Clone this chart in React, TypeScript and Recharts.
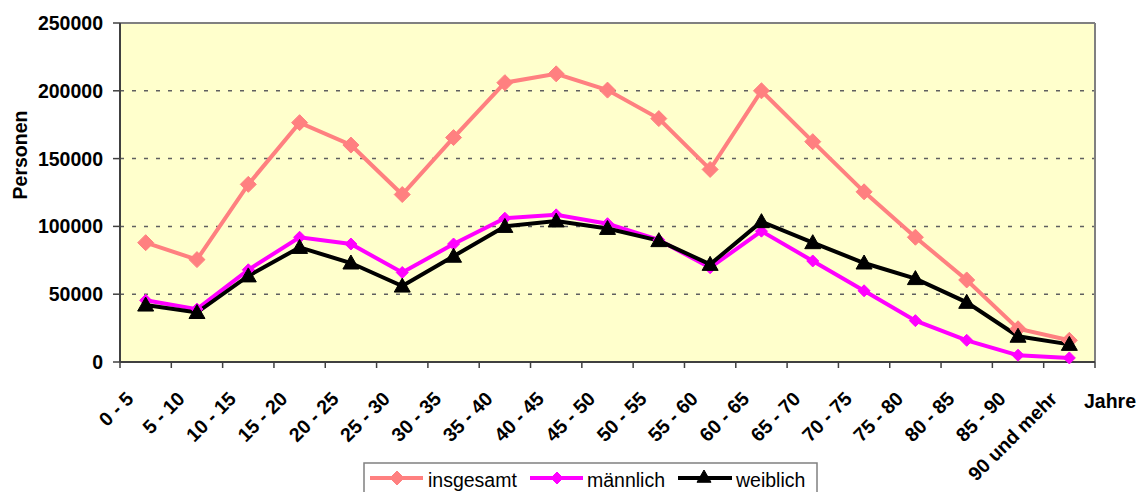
import React from 'react';
import {
  LineChart,
  Line,
  XAxis,
  YAxis,
  CartesianGrid,
  ReferenceLine,
} from 'recharts';

const categories = [
  '0 - 5', '5 - 10', '10 - 15', '15 - 20', '20 - 25', '25 - 30', '30 - 35',
  '35 - 40', '40 - 45', '45 - 50', '50 - 55', '55 - 60', '60 - 65', '65 - 70',
  '70 - 75', '75 - 80', '80 - 85', '85 - 90', '90 und mehr',
];
const insgesamt = [
  88000, 75500, 131000, 176500, 160000, 123500, 165500, 206000, 212500, 200500,
  179500, 142000, 200000, 162500, 125500, 92000, 60500, 24500, 16000,
];
const maennlich = [
  45500, 39000, 68000, 92000, 87000, 66000, 87000, 106000, 108500, 102000,
  90000, 69500, 96500, 74500, 52500, 30500, 16000, 5000, 3000,
];
const weiblich = [
  42000, 36500, 63500, 84500, 73000, 56000, 78000, 100000, 104000, 98500,
  89500, 72000, 103500, 88000, 73000, 61500, 44000, 19000, 13000,
];
const yTicks = [0, 50000, 100000, 150000, 200000, 250000];
const xBounds = categories.map((_, i) => i).concat(categories.length);

const data = categories.map((age, i) => ({
  pos: i + 0.5,
  age,
  insgesamt: insgesamt[i],
  maennlich: maennlich[i],
  weiblich: weiblich[i],
}));

const FONT = '"Liberation Sans", Arial, Helvetica, sans-serif';
const PINK = '#FF8080';
const MAGENTA = '#FF00FF';
const BLACK = '#000000';
const HALF_BAND = 975 / 19 / 2;

const Diamond = ({ cx, cy, r, color }: any) => (
  <polygon
    points={`${cx},${cy - r} ${cx + r},${cy} ${cx},${cy + r} ${cx - r},${cy}`}
    fill={color}
    stroke={color}
    strokeWidth={1}
  />
);

const Triangle = ({ cx, cy, r, color }: any) => (
  <polygon
    points={`${cx},${cy - r} ${cx + r},${cy + r * 0.75} ${cx - r},${cy + r * 0.75}`}
    fill={color}
    stroke={color}
    strokeWidth={1}
  />
);

const XTick = ({ x, y, payload }: any) => {
  const i = payload.value;
  if (i >= categories.length) return null;
  const ax = x + HALF_BAND - 11;
  const ay = y + 32;
  return (
    <text
      x={ax}
      y={ay}
      textAnchor="end"
      transform={`rotate(-45 ${ax} ${ay})`}
      fontFamily={FONT}
      fontWeight="bold"
      fontSize={19.5}
      fill="#000"
    >
      {categories[i]}
    </text>
  );
};

export default function App() {
  return (
    <div
      style={{
        position: 'absolute',
        left: 0,
        top: 0,
        width: 1141,
        height: 492,
        overflow: 'hidden',
        background: '#fff',
      }}
    >
      <LineChart
        width={1141}
        height={492}
        data={data}
        margin={{ top: 23, right: 46, bottom: 0, left: 0 }}
      >
        <CartesianGrid
          vertical={false}
          fill="#FFFFCC"
          stroke="#606060"
          strokeWidth={1.5}
          strokeDasharray="4 8"
        />
        <XAxis
          type="number"
          dataKey="pos"
          domain={[0, categories.length]}
          ticks={xBounds}
          interval={0}
          height={130}
          tickSize={6}
          tickMargin={0}
          axisLine={{ stroke: '#404040', strokeWidth: 2 }}
          tickLine={{ stroke: '#404040', strokeWidth: 1.5 }}
          tick={<XTick />}
          label={({ viewBox }: any) => (
            <text
              x={viewBox.x + viewBox.width - 11}
              y={viewBox.y + 46}
              fontFamily={FONT}
              fontWeight="bold"
              fontSize={19.5}
              fill="#000"
            >
              Jahre
            </text>
          )}
        />
        <YAxis
          domain={[0, 250000]}
          ticks={yTicks}
          width={120}
          tickSize={7}
          tickMargin={10}
          interval={0}
          axisLine={{ stroke: '#404040', strokeWidth: 2 }}
          tickLine={{ stroke: '#404040', strokeWidth: 1.5 }}
          tick={{ fontFamily: FONT, fontWeight: 'bold', fontSize: 19.5, fill: '#000' }}
          label={() => (
            <text
              x={27}
              y={155}
              textAnchor="middle"
              transform="rotate(-90 27 155)"
              fontFamily={FONT}
              fontWeight="bold"
              fontSize={19.5}
              fill="#000"
            >
              Personen
            </text>
          )}
        />
        <ReferenceLine y={250000} stroke="#808080" strokeWidth={2} />
        <ReferenceLine x={categories.length} stroke="#808080" strokeWidth={2} />
        <Line
          dataKey="insgesamt"
          stroke={PINK}
          strokeWidth={4}
          isAnimationActive={false}
          dot={(p: any) => <Diamond key={p.index} cx={p.cx} cy={p.cy} r={8} color={PINK} />}
        />
        <Line
          dataKey="maennlich"
          stroke={MAGENTA}
          strokeWidth={4}
          isAnimationActive={false}
          dot={(p: any) => <Diamond key={p.index} cx={p.cx} cy={p.cy} r={6} color={MAGENTA} />}
        />
        <Line
          dataKey="weiblich"
          stroke={BLACK}
          strokeWidth={4}
          isAnimationActive={false}
          dot={(p: any) => <Triangle key={p.index} cx={p.cx} cy={p.cy} r={8} color={BLACK} />}
        />
      </LineChart>

      {/* legend, box cut off at the bottom edge like the original */}
      <svg
        width={455}
        height={31}
        style={{ position: 'absolute', left: 363, top: 462 }}
      >
        <rect x={1} y={1} width={453} height={40} fill="#fff" stroke="#808080" strokeWidth={1.5} />
        <line x1={7} x2={60} y1={16} y2={16} stroke={PINK} strokeWidth={4} />
        <Diamond cx={34} cy={16} r={7} color={PINK} />
        <text x={65} y={25} fontFamily={FONT} fontSize={19.5} fill="#000">insgesamt</text>
        <line x1={167} x2={220} y1={16} y2={16} stroke={MAGENTA} strokeWidth={4} />
        <Diamond cx={194} cy={16} r={6} color={MAGENTA} />
        <text x={224} y={25} fontFamily={FONT} fontSize={19.5} fill="#000">männlich</text>
        <line x1={315} x2={369} y1={16} y2={16} stroke={BLACK} strokeWidth={4} />
        <Triangle cx={341} cy={15} r={7} color={BLACK} />
        <text x={373} y={25} fontFamily={FONT} fontSize={19.5} fill="#000">weiblich</text>
      </svg>
    </div>
  );
}
